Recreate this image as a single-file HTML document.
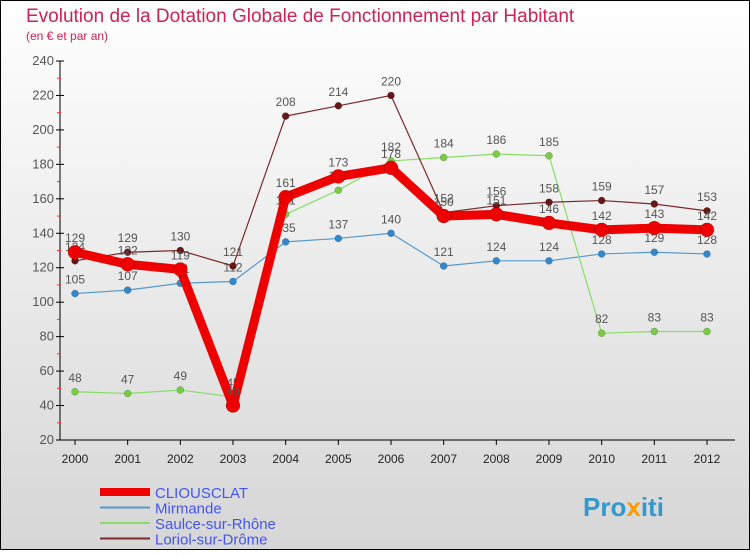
<!DOCTYPE html>
<html><head><meta charset="utf-8"><style>
body{margin:0;width:750px;height:550px;overflow:hidden;font-family:"Liberation Sans",sans-serif}
</style></head><body>
<svg id="c" width="750" height="550" xmlns="http://www.w3.org/2000/svg">
<defs><linearGradient id="bg" x1="0" y1="0" x2="0" y2="1"><stop offset="0" stop-color="#ffffff"/><stop offset="1" stop-color="#d6d6d6"/></linearGradient></defs>
<rect x="0.5" y="0.5" width="749" height="549" fill="url(#bg)" stroke="#000" stroke-width="1"/>
<text x="26" y="22" font-size="19" fill="#cc2255">Evolution de la Dotation Globale de Fonctionnement par Habitant</text>
<text x="26" y="40" font-size="12" fill="#cc2255">(en € et par an)</text>
<g id="axes"></g><g id="series"></g><g id="legend"></g>
<text x="583" y="516" font-size="26" font-weight="bold" fill="#3399cc">Pro<tspan fill="#ff9900">x</tspan>iti</text>
</svg>
<script>
const years=[2000,2001,2002,2003,2004,2005,2006,2007,2008,2009,2010,2011,2012];
const yTicks=[20,40,60,80,100,120,140,160,180,200,220,240];
const clio=[129,122,119,40,161,173,178,150,151,146,142,143,142];
const mirmande=[105,107,111,112,135,137,140,121,124,124,128,129,128];
const saulce=[48,47,49,45,151,165,182,184,186,185,82,83,83];
const loriol=[124,129,130,121,208,214,220,152,156,158,159,157,153];
const NS="http://www.w3.org/2000/svg";
const X=i=>75+i*(707-75)/12;
const Y=v=>440-(v-20)*(440-61)/220;
function mk(t,a,p){const e=document.createElementNS(NS,t);for(const k in a)e.setAttribute(k,a[k]);p.appendChild(e);return e;}
const ax=document.getElementById('axes');
const yaxis=mk('line',{x1:60,y1:61,x2:60,y2:440,stroke:'#000'},ax);


const xaxis=mk('line',{x1:60,y1:440,x2:735,y2:440,stroke:'#000'},ax);


yTicks.forEach((v,i)=>{
 mk('line',{x1:56,y1:Y(v),x2:64,y2:Y(v),stroke:'#000'},ax);
 if(i<yTicks.length-1)mk('line',{x1:57,y1:Y(v+10),x2:61,y2:Y(v+10),stroke:'#e33'},ax);
 const t=mk('text',{x:54,y:Y(v)+4,'font-size':13,'text-anchor':'end',fill:'#555'},ax);t.textContent=v;
 
 
});
years.forEach((y,i)=>{
 mk('line',{x1:X(i),y1:440,x2:X(i),y2:445,stroke:'#000'},ax);
 const t=mk('text',{x:X(i),y:463,'font-size':12,'text-anchor':'middle',fill:'#222'},ax);t.textContent=y;
 
 
});
const S=document.getElementById('series');
function series(d,col,dot,w,r,name){
 const g=mk('g',{},S);
 
 
 mk('polyline',{points:d.map((v,i)=>X(i)+','+Y(v)).join(' '),fill:'none',stroke:col,'stroke-width':w,'stroke-linejoin':'round'},g);
 d.forEach((v,i)=>{
  const c=mk('circle',{cx:X(i),cy:Y(v),r:r,fill:dot,stroke:'rgba(0,0,0,0.3)','stroke-width':0.5},g);
  
  
  const t=mk('text',{x:X(i),y:Y(v)-10,'font-size':12,'text-anchor':'middle',fill:'#555'},g);t.textContent=v;
 });
}
series(mirmande,'#5599cc','#3388cc',1.2,3.5,'series-mirmande');
series(saulce,'#88dd66','#77cc44',1.2,3.5,'series-saulce');
series(loriol,'#7a2a2a','#661818',1.2,3.5,'series-loriol');
series(clio,'#ee0000','#ee0000',9,7,'series-cliousclat');
const L=document.getElementById('legend');
const leg=[['CLIOUSCLAT','#ee0000',8],['Mirmande','#5599cc',2],['Saulce-sur-Rhône','#88dd66',2],['Loriol-sur-Drôme','#7a2a2a',2]];
leg.forEach((l,i)=>{
 const yy=492+i*15.5;
 const g=mk('g',{},L);
 
 
 mk('line',{x1:100,y1:yy,x2:150,y2:yy,stroke:l[1],'stroke-width':l[2]},g);
 const t=mk('text',{x:155,y:yy+6,'font-size':15,fill:'#4455ee'},g);t.textContent=l[0];
});
</script>
</body></html>
